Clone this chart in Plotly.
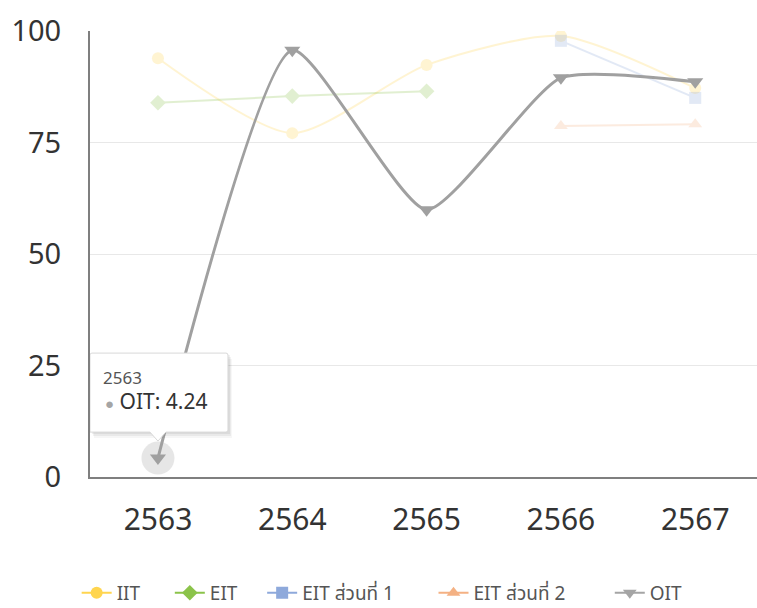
import plotly.graph_objects as go

years = ["2563", "2564", "2565", "2566", "2567"]
iit = [93.9, 77.1, 92.4, 98.9, 87.2]
eit = [83.9, 85.4, 86.5, None, None]
eit1 = [None, None, None, 97.8, 85.0]
eit2 = [None, None, None, 78.7, 79.1]
oit = [4.24, 95.7, 59.9, 89.5, 88.6]

names = ["IIT", "EIT", "EIT ส่วนที่ 1", "EIT ส่วนที่ 2", "OIT"]
colors = ["#FFD54F", "#8BC34A", "#8EA9DB", "#F4B183", "#A5A5A5"]
symbols = ["circle", "diamond", "square", "triangle-up", "triangle-down"]
series = [iit, eit, eit1, eit2, oit]
legend_pad = [5, 4, 7, 8, 0]

FONT = "Noto Sans, Noto Sans Thai, Tahoma, sans-serif"

fig = go.Figure()

# faded (non-hovered) series
for name, col, sym, vals in zip(names[:4], colors[:4], symbols[:4], series[:4]):
    fig.add_trace(go.Scatter(
        x=years, y=vals, mode="lines+markers", name=name, showlegend=False,
        line=dict(color=col, width=2, shape="spline", smoothing=0.7),
        marker=dict(symbol=sym, size=12, color=col),
        opacity=0.25, hoverinfo="skip", connectgaps=False,
    ))

# hover halo on first OIT point
fig.add_trace(go.Scatter(
    x=[years[0]], y=[oit[0]], mode="markers", showlegend=False, hoverinfo="skip",
    marker=dict(size=33, color="rgba(165,165,165,0.28)", line=dict(width=0)),
))

# highlighted OIT series
fig.add_trace(go.Scatter(
    x=years, y=oit, mode="lines+markers", name="OIT", showlegend=False,
    line=dict(color="#A0A0A0", width=3, shape="spline", smoothing=0.55),
    marker=dict(symbol="triangle-down", size=14, color="#A0A0A0"),
))

# legend entries (full colour)
for name, col, sym, pad in zip(names, colors, symbols, legend_pad):
    fig.add_trace(go.Scatter(
        x=[None], y=[None], mode="lines+markers", name=name + "\u00a0" * pad,
        line=dict(color=col, width=2),
        marker=dict(symbol=sym, size=12, color=col),
    ))

# tooltip box with pointer (pixel offsets relative to hovered point)
for dx, dy, a in [(2, -2, 0.06), (3, -4, 0.05), (4, -6, 0.035)]:
    fig.add_shape(
        type="path", xref="x", yref="y", xsizemode="pixel", ysizemode="pixel",
        xanchor=0, yanchor=oit[0],
        path=f"M {-68+dx},{26+dy} L {70+dx},{26+dy} L {70+dx},{105+dy} L {-68+dx},{105+dy} Z",
        fillcolor=f"rgba(0,0,0,{a})", line=dict(width=0), layer="above",
    )
fig.add_shape(
    type="path", xref="x", yref="y", xsizemode="pixel", ysizemode="pixel",
    xanchor=0, yanchor=oit[0],
    path="M -68,26 L -8,26 L 0,17 L 8,26 L 68,26 Q 70,26 70,28 L 70,103 Q 70,105 68,105 L -66,105 Q -68,105 -68,103 Z",
    fillcolor="white", line=dict(color="#D8D8D8", width=1), layer="above",
)
fig.add_annotation(
    x=0, y=oit[0], xref="x", yref="y", showarrow=False,
    xanchor="left", yanchor="middle", xshift=-57, yshift=81,
    text=years[0], font=dict(family=FONT, size=17, color="#555555"),
)
fig.add_annotation(
    x=0, y=oit[0], xref="x", yref="y", showarrow=False,
    xanchor="left", yanchor="middle", xshift=-55, yshift=57,
    text=f"<span style='color:#A5A5A5;font-size:15px'>●</span> OIT: {oit[0]}",
    font=dict(family=FONT, size=21, color="#333333"),
)

fig.update_layout(
    width=757, height=608,
    margin=dict(l=90, r=0, t=31, b=131, autoexpand=False),
    paper_bgcolor="white", plot_bgcolor="white",
    font=dict(family=FONT, color="#333333"),
    legend=dict(orientation="h", x=-0.02, xanchor="left", y=-0.26, yanchor="middle",
                font=dict(family=FONT, size=19, color="#555555"),
                itemwidth=30, traceorder="normal"),
    hovermode=False,
)
fig.update_xaxes(
    type="category", range=[-0.506, 4.46], showgrid=False, automargin=False,
    showline=True, linecolor="#7F7F7F", linewidth=2,
    ticks="", tickfont=dict(family=FONT, size=30, color="#333333"), ticklabelstandoff=15,
    zeroline=False,
)
fig.update_yaxes(
    range=[0, 100], tickvals=[0, 25, 50, 75, 100], automargin=False,
    showgrid=True, gridcolor="#E8E8E8", gridwidth=1,
    showline=True, linecolor="#7F7F7F", linewidth=2,
    ticks="", tickfont=dict(family=FONT, size=29, color="#333333"), ticklabelstandoff=21,
    zeroline=False,
)

fig.write_html("out.html", config={"displayModeBar": False},
               post_script="document.body.style.margin='0';")
